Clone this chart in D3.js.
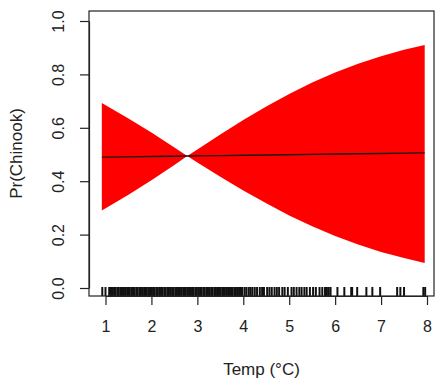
<!DOCTYPE html>
<html>
<head>
<meta charset="utf-8">
<script src="https://cdn.jsdelivr.net/npm/d3@7"></script>
<style>
  body { margin: 0; background: #fff; }
  text { font-family: "Liberation Sans", Arial, sans-serif; fill: #222; }
</style>
</head>
<body>
<div id="chart"></div>
<script>
// fitted probability and confidence band
var temps = [0.92, 1.5, 2, 2.5, 2.78, 3, 3.5, 4, 4.5, 5, 5.5, 6, 6.5, 7, 7.5, 7.95];
var fitP  = [0.490, 0.491, 0.4925, 0.4936, 0.4942, 0.4947, 0.4959, 0.497, 0.498, 0.4993, 0.5004, 0.5016, 0.5027, 0.5038, 0.505, 0.506];
var upper = [0.693, 0.635, 0.582, 0.526, 0.4942, 0.519, 0.575, 0.629, 0.680, 0.727, 0.770, 0.807, 0.840, 0.868, 0.892, 0.910];
var lower = [0.290, 0.349, 0.404, 0.461, 0.4942, 0.470, 0.417, 0.365, 0.317, 0.272, 0.231, 0.195, 0.163, 0.135, 0.112, 0.094];

// observed temperatures (rug)
var rugTemps = [0.93, 1.0, 1.08, 1.12, 1.16, 1.19, 1.22,
  1.26, 1.29, 1.33, 1.36, 1.40, 1.43, 1.47, 1.50, 1.53, 1.57, 1.60, 1.63, 1.67, 1.70,
  1.74, 1.77, 1.80, 1.84, 1.87, 1.90, 1.94, 1.97, 2.01, 2.04, 2.07, 2.11, 2.14, 2.18,
  2.21, 2.24, 2.28, 2.31, 2.35, 2.38, 2.41, 2.45, 2.48, 2.52, 2.55, 2.58, 2.62, 2.65,
  2.69, 2.72, 2.75, 2.79, 2.82, 2.86, 2.89, 2.92, 2.96, 2.99, 3.03, 3.06, 3.09, 3.13,
  3.16, 3.20, 3.23, 3.26, 3.30, 3.33, 3.37, 3.40, 3.43, 3.47, 3.50, 3.54, 3.57, 3.60,
  3.64, 3.67, 3.71, 3.74, 3.77, 3.81, 3.84, 3.88, 3.91, 3.95, 3.98,
  4.03, 4.07, 4.12, 4.16, 4.2, 4.25, 4.3, 4.36, 4.41, 4.45, 4.52, 4.57,
  4.62, 4.68, 4.73, 4.78, 4.85, 4.9, 4.97, 5.05, 5.1, 5.16, 5.22, 5.27, 5.33, 5.38,
  5.45, 5.52, 5.58, 5.66, 5.72, 5.78, 5.82, 5.86, 5.9, 6.05, 6.2, 6.35,
  6.37, 6.48, 6.68, 6.81, 6.98, 7.35, 7.42, 7.5, 7.92, 7.96];

var xTicks = [1, 2, 3, 4, 5, 6, 7, 8];
var yTicks = [0, 0.2, 0.4, 0.6, 0.8, 1.0];

var svgWidth = 438;
var svgHeight = 381;

// plot box in pixels
var box = { left: 89, right: 434, top: 11, bottom: 296 };

var svg = d3.select("#chart")
    .append("svg")
    .attr("width", svgWidth)
    .attr("height", svgHeight);

var x = d3.scaleLinear().domain([1, 8]).range([105.5, 427]);
var y = d3.scaleLinear().domain([0, 1]).range([288, 21]);

var band = temps.map(function(t, i) { return { t: t, lo: lower[i], hi: upper[i], p: fitP[i] }; });

// confidence band
svg.append("path")
    .datum(band)
    .attr("fill", "#ff0000")
    .attr("d", d3.area()
        .x(d => x(d.t))
        .y0(d => y(d.lo))
        .y1(d => y(d.hi)));

// fitted line
svg.append("path")
    .datum(band)
    .attr("fill", "none")
    .attr("stroke", "#1a1a1a")
    .attr("stroke-width", 1.4)
    .attr("d", d3.line()
        .x(d => x(d.t))
        .y(d => y(d.p)));

// rug
svg.append("g")
    .selectAll("line")
    .data(rugTemps)
    .enter()
    .append("line")
    .attr("x1", d => x(d))
    .attr("x2", d => x(d))
    .attr("y1", box.bottom)
    .attr("y2", box.bottom - 9)
    .attr("stroke", "#111")
    .attr("stroke-width", 2);

// box
svg.append("rect")
    .attr("x", box.left)
    .attr("y", box.top)
    .attr("width", box.right - box.left)
    .attr("height", box.bottom - box.top)
    .attr("fill", "none")
    .attr("stroke", "#222")
    .attr("stroke-width", 1.2);

// x axis
var xAxis = svg.append("g")
    .attr("transform", `translate(0, ${box.bottom})`)
    .call(d3.axisBottom(x).tickValues(xTicks).tickFormat(d3.format("d"))
        .tickSize(9).tickPadding(16).tickSizeOuter(0));

// y axis
var yAxis = svg.append("g")
    .attr("transform", `translate(${box.left}, 0)`)
    .call(d3.axisLeft(y).tickValues(yTicks).tickSize(9).tickFormat(d3.format(".1f")).tickSizeOuter(0));

[xAxis, yAxis].forEach(function(g) {
    g.select(".domain").attr("stroke", "#222").attr("stroke-width", 1.2);
    g.selectAll(".tick line").attr("stroke", "#222").attr("stroke-width", 1.2);
    g.selectAll(".tick text")
        .style("font-family", "Liberation Sans, Arial, sans-serif")
        .style("font-size", "16px")
        .attr("fill", "#222");
});

// rotate y tick labels like base R
yAxis.selectAll(".tick text")
    .attr("transform", "rotate(-90)")
    .attr("x", 0)
    .attr("y", -31)
    .attr("dy", "0.35em")
    .attr("text-anchor", "middle");

// axis titles
svg.append("text")
    .attr("x", (box.left + box.right) / 2)
    .attr("y", 375)
    .attr("text-anchor", "middle")
    .style("font-size", "17px")
    .text("Temp (°C)");

svg.append("text")
    .attr("transform", `translate(22, ${(box.top + box.bottom) / 2}) rotate(-90)`)
    .attr("text-anchor", "middle")
    .style("font-size", "17px")
    .text("Pr(Chinook)");
</script>
</body>
</html>
